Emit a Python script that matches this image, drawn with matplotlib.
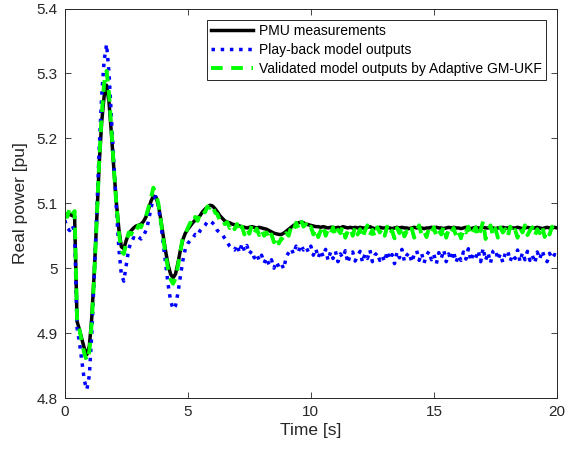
import numpy as np
import matplotlib
matplotlib.use('Agg')
import matplotlib.pyplot as plt
from matplotlib.ticker import FormatStrFormatter

plt.rcParams['font.family'] = ['Liberation Sans', 'DejaVu Sans']

# time axis, 0.1 s samples
t = np.round(np.arange(0, 201) * 0.1, 1)

pmu = [
    5.082, 5.081, 5.083, 5.081, 5.080, 4.918, 4.905, 4.890, 4.876, 4.867,
    4.880, 4.925, 4.995, 5.075, 5.160, 5.225, 5.265, 5.282, 5.255, 5.205,
    5.150, 5.100, 5.060, 5.033, 5.030, 5.043, 5.053, 5.058, 5.062, 5.065,
    5.066, 5.068, 5.072, 5.079, 5.090, 5.103, 5.111, 5.110, 5.098, 5.076,
    5.050, 5.026, 5.005, 4.991, 4.985, 4.991, 5.008, 5.028, 5.044, 5.054,
    5.060, 5.065, 5.070, 5.074, 5.077, 5.081, 5.087, 5.091, 5.094, 5.097,
    5.096, 5.092, 5.087, 5.081, 5.077, 5.073, 5.071, 5.070, 5.068, 5.067,
    5.067, 5.065, 5.064, 5.063, 5.062, 5.063, 5.064, 5.063, 5.062, 5.063,
    5.062, 5.061, 5.060, 5.058, 5.056, 5.054, 5.053, 5.052, 5.052, 5.054,
    5.057, 5.060, 5.063, 5.066, 5.068, 5.070, 5.071, 5.070, 5.068, 5.067,
    5.066, 5.065, 5.064, 5.064, 5.063, 5.064, 5.063, 5.062, 5.063, 5.063,
    5.062, 5.063, 5.062, 5.064, 5.063, 5.062, 5.063, 5.062, 5.063, 5.062,
    5.063, 5.062, 5.062, 5.063, 5.064, 5.062, 5.061, 5.062, 5.063, 5.062,
    5.062, 5.063, 5.062, 5.061, 5.062, 5.063, 5.062, 5.063, 5.062, 5.062,
    5.061, 5.062, 5.063, 5.062, 5.063, 5.062, 5.061, 5.062, 5.062, 5.063,
    5.062, 5.063, 5.062, 5.062, 5.061, 5.062, 5.063, 5.062, 5.063, 5.062,
    5.062, 5.061, 5.062, 5.063, 5.062, 5.061, 5.062, 5.063, 5.062, 5.062,
    5.063, 5.062, 5.062, 5.063, 5.062, 5.061, 5.062, 5.062, 5.063, 5.062,
    5.062, 5.063, 5.062, 5.062, 5.063, 5.062, 5.061, 5.062, 5.063, 5.062,
    5.062, 5.062, 5.063, 5.062, 5.061, 5.062, 5.063, 5.062, 5.062, 5.063,
    5.062,
]

# play-back model outputs
playback = [
    5.074, 5.062, 5.058, 5.066, 5.057, 4.908, 4.885, 4.855, 4.826, 4.813,
    4.835, 4.900, 4.990, 5.085, 5.185, 5.265, 5.320, 5.345, 5.300, 5.230,
    5.160, 5.090, 5.030, 4.990, 4.980, 5.005, 5.030, 5.040, 5.047, 5.044,
    5.048, 5.045, 5.050, 5.058, 5.072, 5.092, 5.108, 5.110, 5.096, 5.070,
    5.038, 5.005, 4.975, 4.950, 4.937, 4.942, 4.962, 4.988, 5.012, 5.030,
    5.038, 5.043, 5.046, 5.052, 5.050, 5.058, 5.062, 5.066, 5.072, 5.073,
    5.070, 5.066, 5.058, 5.055, 5.052, 5.046, 5.040, 5.034, 5.030, 5.028,
    5.036, 5.024, 5.038, 5.027, 5.035, 5.022, 5.027, 5.016, 5.022, 5.012,
    5.020, 5.008, 5.016, 5.005, 5.013, 5.000, 5.010, 5.002, 5.007, 4.999,
    5.018, 5.024, 5.030, 5.022, 5.034, 5.026, 5.036, 5.028, 5.033, 5.025,
    5.034, 5.020, 5.030, 5.016, 5.027, 5.018, 5.029, 5.012, 5.025, 5.015,
    5.026, 5.010, 5.022, 5.016, 5.027, 5.008, 5.021, 5.025, 5.011, 5.019,
    5.026, 5.009, 5.022, 5.015, 5.028, 5.010, 5.020, 5.024, 5.012, 5.019,
    5.010, 5.026, 5.014, 5.021, 5.007, 5.025, 5.016, 5.029, 5.011, 5.020,
    5.024, 5.009, 5.021, 5.027, 5.012, 5.023, 5.008, 5.020, 5.026, 5.013,
    5.021, 5.007, 5.024, 5.015, 5.028, 5.010, 5.022, 5.013, 5.026, 5.009,
    5.020, 5.012, 5.025, 5.014, 5.030, 5.011, 5.022, 5.016, 5.027, 5.010,
    5.031, 5.012, 5.024, 5.008, 5.026, 5.029, 5.013, 5.022, 5.009, 5.023,
    5.027, 5.011, 5.021, 5.015, 5.028, 5.010, 5.024, 5.013, 5.026, 5.012,
    5.020, 5.008, 5.025, 5.014, 5.027, 5.016, 5.010, 5.023, 5.015, 5.021,
    5.019,
]

# validated model outputs by Adaptive GM-UKF
validated = [
    5.085, 5.079, 5.092, 5.083, 5.088, 4.922, 4.905, 4.885, 4.868, 4.857,
    4.872, 4.918, 4.990, 5.075, 5.165, 5.235, 5.285, 5.304, 5.268, 5.212,
    5.152, 5.098, 5.055, 5.026, 5.022, 5.040, 5.055, 5.052, 5.062, 5.058,
    5.066, 5.063, 5.074, 5.080, 5.093, 5.108, 5.124, 5.116, 5.100, 5.074,
    5.046, 5.021, 4.998, 4.983, 4.976, 4.984, 5.004, 5.026, 5.048, 5.052,
    5.062, 5.070, 5.066, 5.079, 5.073, 5.084, 5.090, 5.086, 5.095, 5.093,
    5.098, 5.086, 5.083, 5.074, 5.077, 5.068, 5.071, 5.062, 5.068, 5.060,
    5.068, 5.055, 5.064, 5.052, 5.062, 5.053, 5.066, 5.055, 5.061, 5.051,
    5.060, 5.050, 5.055, 5.044, 5.052, 5.040, 5.049, 5.038, 5.046, 5.042,
    5.054, 5.050, 5.064, 5.058, 5.070, 5.062, 5.074, 5.064, 5.068, 5.059,
    5.064, 5.052, 5.061, 5.048, 5.058, 5.066, 5.050, 5.060, 5.053, 5.063,
    5.049, 5.059, 5.054, 5.065, 5.047, 5.057, 5.062, 5.050, 5.064, 5.052,
    5.060, 5.046, 5.058, 5.066, 5.051, 5.059, 5.048, 5.063, 5.055, 5.061,
    5.050, 5.064, 5.052, 5.058, 5.046, 5.062, 5.054, 5.065, 5.049, 5.057,
    5.052, 5.061, 5.047, 5.059, 5.066, 5.051, 5.057, 5.048, 5.062, 5.055,
    5.063, 5.049, 5.058, 5.052, 5.065, 5.047, 5.060, 5.054, 5.062, 5.050,
    5.058, 5.046, 5.061, 5.055, 5.064, 5.050, 5.057, 5.063, 5.048, 5.059,
    5.072, 5.045, 5.058, 5.066, 5.050, 5.061, 5.047, 5.063, 5.055, 5.060,
    5.049, 5.064, 5.053, 5.059, 5.047, 5.062, 5.055, 5.066, 5.051, 5.058,
    5.063, 5.050, 5.060, 5.054, 5.065, 5.048, 5.059, 5.052, 5.064, 5.056,
    5.058,
]

axcol = '#262626'

fig = plt.figure(figsize=(5.73, 4.51), dpi=100)
ax = fig.add_axes([0.113, 0.1175, 0.859, 0.8635])

ax.plot(t, pmu, color='k', lw=2.5, label='PMU measurements')
ax.plot(t, playback, color=(0, 0, 1), lw=2.5, ls=':', label='Play-back model outputs')
ax.plot(t, validated, color=(0, 1, 0), lw=2.8, dashes=(3, 2.2), label='Validated model outputs by Adaptive GM-UKF')

ax.set_xlim(0, 20)
ax.set_ylim(4.8, 5.4)
ax.set_xticks([0, 5, 10, 15, 20])
ax.set_yticks(np.round(np.arange(4.8, 5.41, 0.1), 1))
ax.yaxis.set_major_formatter(FormatStrFormatter('%g'))

ax.tick_params(direction='in', top=True, right=True, length=4, width=0.6,
               colors=axcol, labelsize=11, pad=5)
for s in ax.spines.values():
    s.set_color(axcol)
    s.set_linewidth(0.7)

ax.set_xlabel('Time [s]', fontsize=12.5, color=axcol, labelpad=3)
ax.set_ylabel('Real power [pu]', fontsize=12.5, color=axcol, labelpad=6)

leg = ax.legend(loc='upper right', fontsize=10, handlelength=3.0, handletextpad=0.45,
                borderaxespad=0.8, borderpad=0.3, labelspacing=0.35,
                fancybox=False, framealpha=1)
leg.get_frame().set_edgecolor(axcol)
leg.get_frame().set_linewidth(0.7)

fig.savefig('out.png', dpi=100)
